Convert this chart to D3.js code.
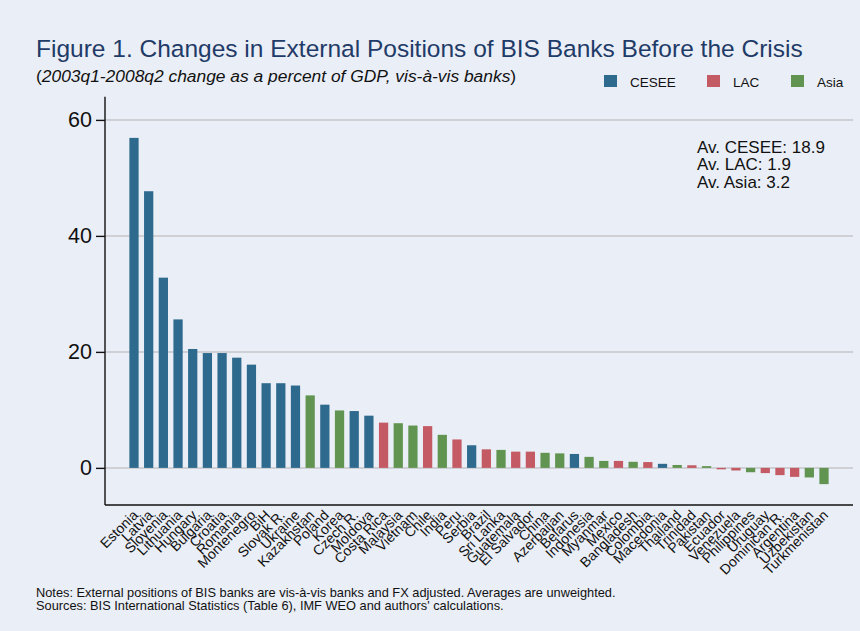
<!DOCTYPE html>
<html>
<head>
<meta charset="utf-8">
<script src="https://cdn.jsdelivr.net/npm/d3@7"></script>
<style>
  html, body { margin: 0; padding: 0; background: #eaeef6; }
  svg { display: block; font-family: Arial, "Liberation Sans", sans-serif; }
</style>
</head>
<body>
<svg id="chart" width="860" height="631"></svg>
<script>
// Countries in display order, with their change (percent of GDP) and region group
const countries = ["Estonia","Latvia","Slovenia","Lithuania","Hungary","Bulgaria","Croatia","Romania","Montenegro","BiH","Slovak R.","Ukraine","Kazakhstan","Poland","Korea","Czech R.","Moldova","Costa Rica","Malaysia","Vietnam","Chile","India","Peru","Serbia","Brazil","Sri Lanka","Guatemala","El Salvador","China","Azerbaijan","Belarus","Indonesia","Myanmar","Mexico","Bangladesh","Colombia","Macedonia","Thailand","Trinidad","Pakistan","Ecuador","Venezuela","Philippines","Uruguay","Dominican R.","Argentina","Uzbekistan","Turkmenistan"];
const values = [56.9,47.7,32.8,25.6,20.5,19.8,19.8,19.0,17.8,14.6,14.6,14.2,12.5,10.9,9.9,9.8,9.0,7.8,7.7,7.3,7.2,5.7,4.9,3.9,3.2,3.1,2.8,2.8,2.6,2.5,2.4,1.9,1.2,1.2,1.05,1.0,0.7,0.5,0.45,0.3,-0.25,-0.45,-0.75,-0.9,-1.25,-1.55,-1.65,-2.8];
const regions = ["CESEE","CESEE","CESEE","CESEE","CESEE","CESEE","CESEE","CESEE","CESEE","CESEE","CESEE","CESEE","Asia","CESEE","Asia","CESEE","CESEE","LAC","Asia","Asia","LAC","Asia","LAC","CESEE","LAC","Asia","LAC","LAC","Asia","Asia","CESEE","Asia","Asia","LAC","Asia","LAC","CESEE","Asia","LAC","Asia","LAC","LAC","Asia","LAC","LAC","LAC","Asia","Asia"];
const groupNames = ["CESEE","LAC","Asia"];
const groupColors = ["#2e6a8e","#c35a64","#609450"];
const yTicks = [0,20,40,60];
const averageLines = ["Av. CESEE: 18.9","Av. LAC: 1.9","Av. Asia: 3.2"];

const svg = d3.select("#chart");
const plotLeft = 105, plotRight = 853, plotTop = 96.7, plotBottom = 505;

const x = d3.scaleBand().domain(countries).range([plotLeft, plotRight])
  .paddingInner(0.37).paddingOuter(1.66);
const y = d3.scaleLinear().domain([-6.4, 64]).range([plotBottom, plotTop]);
const color = d3.scaleOrdinal().domain(groupNames).range(groupColors);

// Title and subtitle
svg.append("text").attr("x", 36).attr("y", 57)
  .attr("font-size", 24.5).attr("fill", "#1f3b68")
  .text("Figure 1. Changes in External Positions of BIS Banks Before the Crisis");
const sub = svg.append("text").attr("x", 36).attr("y", 82)
  .attr("font-size", 17.4).attr("fill", "#111");
sub.append("tspan").text("(");
sub.append("tspan").attr("font-style", "italic")
  .text("2003q1-2008q2 change as a percent of GDP, vis-à-vis banks");
sub.append("tspan").text(")");

// Legend
const legend = svg.append("g");
const legendX = [604, 707, 791];
groupNames.forEach((g, i) => {
  legend.append("rect").attr("x", legendX[i]).attr("y", 75)
    .attr("width", 13).attr("height", 12).attr("fill", color(g));
  legend.append("text").attr("x", legendX[i] + 26).attr("y", 86.5)
    .attr("font-size", 13.5).attr("fill", "#111").text(g);
});

// Horizontal gridlines
svg.append("g").selectAll("line").data(yTicks).join("line")
  .attr("x1", plotLeft).attr("x2", plotRight)
  .attr("y1", d => y(d)).attr("y2", d => y(d))
  .attr("stroke", "#c6c6ca").attr("stroke-width", 1.5);

// Bars
svg.append("g").selectAll("rect").data(countries).join("rect")
  .attr("x", d => x(d))
  .attr("width", x.bandwidth())
  .attr("y", (d, i) => y(Math.max(0, values[i])))
  .attr("height", (d, i) => Math.abs(y(values[i]) - y(0)))
  .attr("fill", (d, i) => color(regions[i]));

// Y axis
const yAxis = svg.append("g").attr("transform", `translate(${plotLeft},0)`)
  .call(d3.axisLeft(y).tickValues(yTicks).tickSize(9).tickPadding(4));
yAxis.select(".domain").attr("d", `M0,${plotTop}V${plotBottom}`).attr("stroke", "#111").attr("stroke-width", 1.4);
yAxis.selectAll(".tick line").attr("stroke", "#111").attr("stroke-width", 1.4);
yAxis.selectAll(".tick text").attr("font-size", 21.5).attr("fill", "#111")
  .attr("font-family", "Arial, 'Liberation Sans', sans-serif");

// X axis baseline and rotated country labels
const xAxis = svg.append("g").attr("transform", `translate(0,${plotBottom})`)
  .call(d3.axisBottom(x).tickSize(0).tickPadding(0));
xAxis.select(".domain").attr("d", `M${plotLeft},0H${plotRight}`).attr("stroke", "#111").attr("stroke-width", 1.5);
xAxis.selectAll(".tick text")
  .attr("font-size", 14).attr("fill", "#111")
  .attr("font-family", "Arial, 'Liberation Sans', sans-serif")
  .attr("text-anchor", "end")
  .attr("dy", null).attr("y", 0)
  .attr("transform", "translate(5,11) rotate(-45)");

// Group averages
svg.append("g").selectAll("text").data(averageLines).join("text")
  .attr("x", 697).attr("y", (d, i) => 152.5 + i * 17.8)
  .attr("font-size", 17).attr("fill", "#111").text(d => d);

// Notes
svg.append("text").attr("x", 36).attr("y", 596.5).attr("font-size", 12.8).attr("fill", "#111")
  .text("Notes: External positions of BIS banks are vis-à-vis banks and FX adjusted. Averages are unweighted.");
svg.append("text").attr("x", 36).attr("y", 610).attr("font-size", 12.8).attr("fill", "#111")
  .text("Sources: BIS International Statistics (Table 6), IMF WEO and authors' calculations.");
</script>
</body>
</html>
